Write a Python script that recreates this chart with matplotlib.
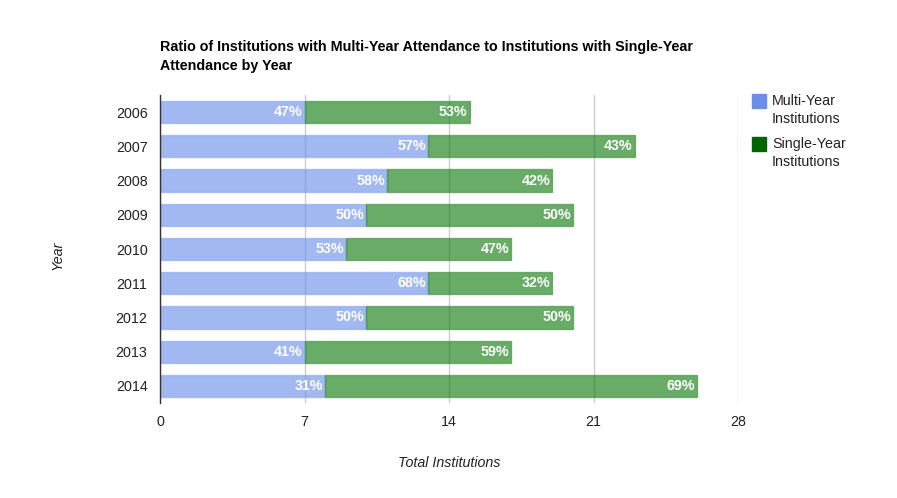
import matplotlib
matplotlib.use("Agg")
import matplotlib.pyplot as plt
from matplotlib.patches import Rectangle

years = ["2006", "2007", "2008", "2009", "2010", "2011", "2012", "2013", "2014"]
multi_year = [7, 13, 11, 10, 9, 13, 10, 7, 8]
single_year = [8, 10, 8, 10, 8, 6, 10, 10, 18]
multi_pct = ["47%", "57%", "58%", "50%", "53%", "68%", "50%", "41%", "31%"]
single_pct = ["53%", "43%", "42%", "50%", "47%", "32%", "50%", "59%", "69%"]
x_ticks = [0, 7, 14, 21, 28]

plt.rcParams['font.family'] = ['Liberation Sans', 'DejaVu Sans']
FS = 10.3

fig = plt.figure(figsize=(8.97, 4.98), dpi=100)
ax = fig.add_axes([160/897, 1-403/498, (738-160)/897, (403-95)/498])

ypos = list(range(len(years)))
blue_fill = "#6f93e8"
green_fill = "#0b7a0b"
ax.barh(ypos, multi_year, height=0.65, color=blue_fill, alpha=0.65,
        edgecolor="#8eaaee", linewidth=1, zorder=2)
ax.barh(ypos, single_year, left=multi_year, height=0.65, color=green_fill, alpha=0.62,
        edgecolor="#3f8f3f", linewidth=1, zorder=2)

px = 28 / (738 - 160)
for i in ypos:
    ax.text(multi_year[i] - 2*px, i, multi_pct[i], ha="right", va="center",
            color="white", fontsize=FS, fontweight="bold", zorder=3)
    ax.text(multi_year[i] + single_year[i] - 2*px, i, single_pct[i], ha="right", va="center",
            color="white", fontsize=FS, fontweight="bold", zorder=3)

ax.set_xlim(0, 28)
ax.set_ylim(len(years) - 0.5, -0.5)
ax.set_xticks(x_ticks)
ax.set_xticklabels([str(t) for t in x_ticks])
ax.set_yticks(ypos)
ax.set_yticklabels(years)
ax.tick_params(axis="both", length=0, labelsize=FS, colors="#222222")
ax.tick_params(axis="x", pad=9)
ax.tick_params(axis="y", pad=9)
ax.xaxis.grid(True, color="#cccccc", linewidth=1, zorder=1)
ax.set_axisbelow(True)
for s in ["top", "right", "bottom"]:
    ax.spines[s].set_visible(False)
ax.spines["left"].set_color("#333333")
ax.spines["left"].set_linewidth(1)

fig.text(449/897, 1-463/498, "Total Institutions", fontsize=FS, style="italic",
         color="#222222", ha="center", va="center")
fig.text(58/897, 1-255/498, "Year", rotation=90, fontsize=FS, style="italic",
         color="#222222", ha="center", va="center")

fig.text(160/897, 1-47/498, "Ratio of Institutions with Multi-Year Attendance to Institutions with Single-Year",
         fontsize=FS, fontweight="bold", color="#000000", ha="left", va="center")
fig.text(160/897, 1-66/498, "Attendance by Year",
         fontsize=FS, fontweight="bold", color="#000000", ha="left", va="center")

# legend
legend_items = [("Multi-Year", "Institutions", "#6b8fe8", 94), ("Single-Year", "Institutions", "#006400", 137)]
for l1, l2, col, ytop in legend_items:
    fig.patches.append(Rectangle((752/897, 1-(ytop+14)/498), 14/897, 14/498,
                                 transform=fig.transFigure, color=col, figure=fig))
    fig.text(772/897, 1-(ytop+7)/498, l1, fontsize=FS, color="#222222",
             ha="left", va="center")
    fig.text(772/897, 1-(ytop+25)/498, l2, fontsize=FS, color="#222222",
             ha="left", va="center")

fig.savefig("out.png", dpi=100)
